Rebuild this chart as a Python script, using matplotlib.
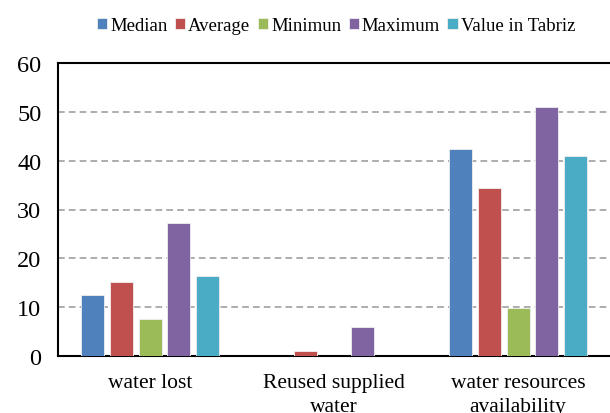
import numpy as np
import matplotlib
matplotlib.use("Agg")
import matplotlib.pyplot as plt

plt.rcParams['font.family'] = ['Liberation Serif', 'DejaVu Serif']

categories = ["water lost", "Reused supplied\nwater", "water resources\navailability"]
series = ["Median", "Average", "Minimun", "Maximum", "Value in Tabriz"]
median = [12.5, 0.0, 42.4]
average = [15.1, 1.0, 34.4]
minimum = [7.5, 0.0, 9.9]
maximum = [27.2, 6.0, 50.9]
tabriz = [16.3, 0.0, 41.0]
colors = ['#4F81BD', '#C0504D', '#9BBB59', '#8064A2', '#4BACC6']

values = [median, average, minimum, maximum, tabriz]

fig = plt.figure(figsize=(6.1, 4.14), dpi=100)
ax = fig.add_axes([58 / 610, 1 - 357 / 414, 552 / 610, 293 / 414])

x = np.arange(len(categories))
width = 0.125
step = 0.155
for i, (name, vals) in enumerate(zip(series, values)):
    ax.bar(x + (i - 2) * step, vals, width, color=colors[i], label=name,
           edgecolor='#F0F0F0', linewidth=0.6, zorder=3)

ax.set_xlim(-0.5, 2.5)
ax.set_ylim(0, 60)
ax.set_yticks(range(0, 61, 10))
ax.set_xticks(x)
ax.set_xticklabels(categories, fontsize=15.5, linespacing=1.35)
ax.tick_params(axis='y', labelsize=17.5, length=0, pad=12)
ax.tick_params(axis='x', length=0, pad=12)
ax.yaxis.grid(True, linestyle=(0, (4, 2.5)), color='#A0A0A0', linewidth=1.2, zorder=0)
for s in ['left', 'top', 'bottom']:
    ax.spines[s].set_linewidth(1.5)
    ax.spines[s].set_color('black')
ax.spines['right'].set_visible(False)

fig.legend(loc='center', bbox_to_anchor=(0.551, 0.936), ncol=5, frameon=False,
           fontsize=13.5, handlelength=0.55, handleheight=0.55, handletextpad=0.15,
           columnspacing=0.4)

fig.savefig("out.png", dpi=100)
